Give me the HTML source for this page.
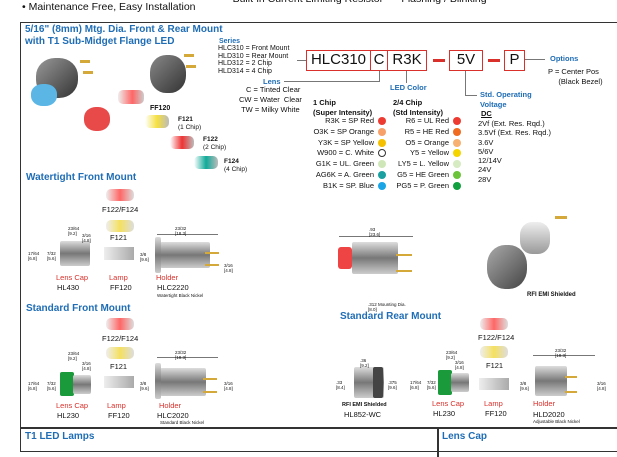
<!DOCTYPE html>
<html><head><meta charset="utf-8"><style>
*{margin:0;padding:0;box-sizing:border-box}
body{width:617px;height:449px;overflow:hidden;background:#fff;font-family:"Liberation Sans",sans-serif;color:#111;position:relative}
.a{position:absolute;white-space:nowrap}
.t{font-size:7.5px;line-height:9px}
.s{font-size:4.5px;line-height:5px}
.b{color:#1f6db5;font-weight:bold}
.h{font-size:10px;color:#1f6db5;font-weight:bold}
.r{color:#d9302b}
.box{position:absolute;border:1.5px solid #d9302b;font-size:15px;line-height:18px;text-align:center;color:#111}
.dot{position:absolute;width:8px;height:8px;border-radius:50%}
.ln{position:absolute;background:#777}
.g{position:absolute;background:linear-gradient(#ddd,#777,#ccc);border-radius:2px}
.pin{position:absolute;background:#d4a93a}
</style></head><body>
<div class="a" style="left:22px;top:1px;font-size:10.5px">• Maintenance Free, Easy Installation</div>
<div class="a" style="left:226px;top:-7px;font-size:10.5px">• Built-in Current Limiting Resistor &nbsp;&nbsp; • Flashing / Blinking</div>

<div class="a" style="left:20px;top:22px;width:600px;height:430px;border:1.5px solid #333"></div>
<div class="a" style="left:20px;top:427px;width:600px;height:1.5px;background:#333"></div>
<div class="a" style="left:437px;top:427px;width:1.5px;height:30px;background:#333"></div>

<div class="a h" style="left:25px;top:24px;line-height:11.5px">5/16" (8mm) Mtg. Dia. Front &amp; Rear Mount<br>with T1 Sub-Midget Flange LED</div>

<div class="a b" style="left:219px;top:38px;font-size:7px;line-height:8px">Series</div>
<div class="a" style="left:218px;top:45px;font-size:7px;line-height:7.7px">HLC310 = Front Mount<br>HLD310 = Rear Mount<br>HLD312 = 2 Chip<br>HLD314 = 4 Chip</div>
<div class="ln" style="left:297px;top:60px;width:10px;height:1px"></div>
<div class="box" style="left:306px;top:50px;width:65px;height:21px">HLC310</div>
<div class="box" style="left:370px;top:50px;width:18px;height:21px">C</div>
<div class="box" style="left:387px;top:50px;width:40px;height:21px">R3K</div>
<div class="a" style="left:433px;top:59px;width:12px;height:3px;background:#d9302b"></div>
<div class="box" style="left:449px;top:50px;width:34px;height:21px">5V</div>
<div class="a" style="left:488px;top:59px;width:12px;height:3px;background:#d9302b"></div>
<div class="box" style="left:504px;top:50px;width:21px;height:21px">P</div>
<div class="ln" style="left:525px;top:59px;width:20px;height:1px"></div>
<div class="a t b" style="left:550px;top:54px">Options</div>
<div class="a t" style="left:548px;top:67px;line-height:9.5px">P = Center Pos<br>&nbsp;&nbsp;&nbsp;&nbsp;&nbsp;(Black Bezel)</div>

<div class="a t b" style="left:263px;top:77px">Lens</div>
<div class="ln" style="left:284px;top:81px;width:96px;height:1px"></div>
<div class="ln" style="left:379px;top:71px;width:1px;height:11px"></div>
<div class="a t" style="left:246px;top:85px">C = Tinted Clear</div>
<div class="a t" style="left:239px;top:95px;line-height:9.5px">CW = Water &nbsp;Clear<br>&nbsp;TW = Milky White</div>
<div class="ln" style="left:406px;top:71px;width:1px;height:12px"></div>
<div class="a t b" style="left:390px;top:83px">LED Color</div>
<div class="ln" style="left:465px;top:71px;width:1px;height:24px"></div>
<div class="ln" style="left:465px;top:95px;width:12px;height:1px"></div>
<div class="a t b" style="left:480px;top:90px;line-height:9.5px">Std. Operating<br>Voltage</div>
<div class="a t" style="left:481px;top:109px;font-weight:bold;text-decoration:underline">DC</div>
<div class="a t" style="left:478px;top:119px;line-height:9.3px">2Vf (Ext. Res. Rqd.)<br>3.5Vf (Ext. Res. Rqd.)<br>3.6V<br>5/6V<br>12/14V<br>24V<br>28V</div>

<div class="a t" style="left:313px;top:98px;font-weight:bold;line-height:9.5px">1 Chip<br>(Super Intensity)</div>
<div class="a t" style="left:393px;top:98px;font-weight:bold;line-height:9.5px">2/4 Chip<br>(Std Intensity)</div>
<div class="a t" style="left:294px;top:116px;width:80px;text-align:right;line-height:10.8px">R3K = SP Red<br>O3K = SP Orange<br>Y3K = SP Yellow<br>W900 = C. White<br>G1K = UL. Green<br>AG6K = A. Green<br>B1K = SP. Blue</div>
<div class="a t" style="left:370px;top:116px;width:79px;text-align:right;line-height:10.8px">R6 = UL Red<br>R5 = HE Red<br>O5 = Orange<br>Y5 = Yellow<br>LY5 = L. Yellow<br>G5 = HE Green<br>PG5 = P. Green</div>
<div class="dot" style="left:378px;top:117px;background:#ee3b32"></div>
<div class="dot" style="left:378px;top:128px;background:#f7a06a"></div>
<div class="dot" style="left:378px;top:139px;background:#f5c000"></div>
<div class="dot" style="left:378px;top:149px;border:1px solid #333"></div>
<div class="dot" style="left:378px;top:160px;background:#cfe7b8"></div>
<div class="dot" style="left:378px;top:171px;background:#1aa0a0"></div>
<div class="dot" style="left:378px;top:182px;background:#1aa5e6"></div>
<div class="dot" style="left:453px;top:117px;background:#ee3b32"></div>
<div class="dot" style="left:453px;top:128px;background:#f06a20"></div>
<div class="dot" style="left:453px;top:139px;background:#f7b070"></div>
<div class="dot" style="left:453px;top:149px;background:#f5d500"></div>
<div class="dot" style="left:453px;top:160px;background:#d6ebc2"></div>
<div class="dot" style="left:453px;top:171px;background:#6cc43a"></div>
<div class="dot" style="left:453px;top:182px;background:#10a040"></div>

<!-- top-left product images -->
<div class="a" style="left:36px;top:58px;width:42px;height:40px;border-radius:45%;background:linear-gradient(135deg,#999,#333)"></div>
<div class="a" style="left:31px;top:84px;width:26px;height:22px;border-radius:45%;background:#5bb6e6"></div>
<div class="pin" style="left:80px;top:60px;width:10px;height:3px"></div><div class="pin" style="left:83px;top:71px;width:10px;height:3px"></div>
<div class="a" style="left:150px;top:55px;width:36px;height:38px;border-radius:45%;background:linear-gradient(135deg,#888,#333)"></div>
<div class="pin" style="left:184px;top:54px;width:10px;height:3px"></div><div class="pin" style="left:186px;top:65px;width:10px;height:3px"></div>
<div class="a" style="left:84px;top:107px;width:26px;height:24px;border-radius:45%;background:#e84a4a"></div>
<div class="a" style="left:118px;top:90px;width:26px;height:14px;border-radius:5px;background:linear-gradient(90deg,#eee,#f66 55%,#ccc)"></div>
<div class="a t" style="left:150px;top:104px;font-size:7px;font-weight:bold">FF120</div>
<div class="a" style="left:145px;top:115px;width:24px;height:13px;border-radius:5px;background:linear-gradient(90deg,#fff,#f5e040,#bbb)"></div>
<div class="a t" style="left:178px;top:116px;font-size:6.5px;line-height:8px"><b>F121</b><br>(1 Chip)</div>
<div class="a" style="left:170px;top:136px;width:24px;height:13px;border-radius:5px;background:linear-gradient(90deg,#fff,#e33,#bbb)"></div>
<div class="a t" style="left:203px;top:136px;font-size:6.5px;line-height:8px"><b>F122</b><br>(2 Chip)</div>
<div class="a" style="left:194px;top:156px;width:24px;height:13px;border-radius:5px;background:linear-gradient(90deg,#fff,#1a9,#bbb)"></div>
<div class="a t" style="left:224px;top:158px;font-size:6.5px;line-height:8px"><b>F124</b><br>(4 Chip)</div>

<!-- Watertight -->
<div class="a h" style="left:26px;top:172px">Watertight Front Mount</div>
<div class="a" style="left:106px;top:189px;width:28px;height:12px;border-radius:5px;background:linear-gradient(90deg,#eee,#f66,#ddd)"></div>
<div class="a t" style="left:102px;top:205px">F122/F124</div>
<div class="a" style="left:106px;top:220px;width:28px;height:12px;border-radius:5px;background:linear-gradient(90deg,#eee,#f5e060,#ddd)"></div>
<div class="a t" style="left:110px;top:233px">F121</div>
<div class="a" style="left:104px;top:247px;width:30px;height:13px;background:linear-gradient(90deg,#eee,#aaa)"></div>
<div class="g" style="left:60px;top:241px;width:30px;height:25px"></div>
<div class="a s" style="left:68px;top:226px">23/64<br>[9.2]</div>
<div class="a s" style="left:82px;top:233px">3/16<br>[4.8]</div>
<div class="a s" style="left:28px;top:251px">17/64<br>[6.8]</div>
<div class="a s" style="left:47px;top:251px">7/32<br>[5.6]</div>
<div class="a t r" style="left:56px;top:273px">Lens Cap</div>
<div class="a t" style="left:57px;top:283px">HL430</div>
<div class="a t r" style="left:109px;top:273px">Lamp</div>
<div class="a t" style="left:110px;top:283px">FF120</div>
<div class="g" style="left:160px;top:242px;width:50px;height:26px"></div>
<div class="g" style="left:155px;top:237px;width:6px;height:36px"></div>
<div class="pin" style="left:205px;top:252px;width:14px;height:2px"></div><div class="pin" style="left:205px;top:264px;width:14px;height:2px"></div>
<div class="ln" style="left:157px;top:234px;width:61px;height:1px"></div>
<div class="a s" style="left:175px;top:226px">23/32<br>[18.3]</div>
<div class="a s" style="left:140px;top:252px">3/8<br>[9.6]</div>
<div class="a s" style="left:224px;top:263px">3/16<br>[4.8]</div>
<div class="a t r" style="left:156px;top:273px">Holder</div>
<div class="a t" style="left:157px;top:283px">HLC2220</div>
<div class="a s" style="left:157px;top:293px">Watertight Black Nickel</div>

<div class="a" style="left:338px;top:247px;width:14px;height:22px;background:#e44;border-radius:3px"></div>
<div class="g" style="left:352px;top:242px;width:46px;height:32px"></div>
<div class="pin" style="left:396px;top:254px;width:16px;height:2px"></div><div class="pin" style="left:396px;top:270px;width:16px;height:2px"></div>
<div class="ln" style="left:339px;top:236px;width:74px;height:1px"></div>
<div class="a s" style="left:369px;top:227px">.93<br>[23.6]</div>
<div class="a s" style="left:368px;top:302px">.312 Mounting Dia.<br>[8.0]</div>
<div class="a" style="left:487px;top:245px;width:40px;height:44px;border-radius:45%;background:linear-gradient(135deg,#aaa,#444)"></div>
<div class="a" style="left:520px;top:222px;width:30px;height:32px;border-radius:40%;background:linear-gradient(#eee,#999)"></div>
<div class="pin" style="left:555px;top:216px;width:12px;height:3px"></div>
<div class="a s" style="left:527px;top:293px;font-weight:bold;font-size:6px">RFI EMI Shielded</div>

<!-- Standard Front -->
<div class="a h" style="left:26px;top:303px">Standard Front Mount</div>
<div class="a" style="left:106px;top:318px;width:28px;height:12px;border-radius:5px;background:linear-gradient(90deg,#eee,#f66,#ddd)"></div>
<div class="a t" style="left:102px;top:334px">F122/F124</div>
<div class="a" style="left:106px;top:347px;width:28px;height:12px;border-radius:5px;background:linear-gradient(90deg,#eee,#f5e060,#ddd)"></div>
<div class="a t" style="left:110px;top:362px">F121</div>
<div class="a" style="left:104px;top:376px;width:30px;height:12px;background:linear-gradient(90deg,#eee,#aaa)"></div>
<div class="a" style="left:60px;top:372px;width:14px;height:24px;background:#1a9a3a;border-radius:2px"></div>
<div class="g" style="left:73px;top:375px;width:18px;height:19px"></div>
<div class="a s" style="left:68px;top:351px">23/64<br>[9.2]</div>
<div class="a s" style="left:82px;top:361px">3/16<br>[4.8]</div>
<div class="a s" style="left:28px;top:381px">17/64<br>[6.8]</div>
<div class="a s" style="left:47px;top:381px">7/32<br>[5.6]</div>
<div class="a t r" style="left:56px;top:401px">Lens Cap</div>
<div class="a t" style="left:57px;top:411px">HL230</div>
<div class="a t r" style="left:107px;top:401px">Lamp</div>
<div class="a t" style="left:108px;top:411px">FF120</div>
<div class="g" style="left:160px;top:368px;width:46px;height:28px"></div>
<div class="g" style="left:155px;top:363px;width:6px;height:36px"></div>
<div class="pin" style="left:203px;top:378px;width:14px;height:2px"></div><div class="pin" style="left:203px;top:391px;width:14px;height:2px"></div>
<div class="ln" style="left:157px;top:357px;width:61px;height:1px"></div>
<div class="a s" style="left:175px;top:350px">23/32<br>[18.3]</div>
<div class="a s" style="left:140px;top:381px">3/8<br>[9.6]</div>
<div class="a s" style="left:224px;top:381px">3/16<br>[4.8]</div>
<div class="a t r" style="left:159px;top:401px">Holder</div>
<div class="a t" style="left:157px;top:411px">HLC2020</div>
<div class="a s" style="left:160px;top:420px">Standard Black Nickel</div>

<!-- Standard Rear -->
<div class="a h" style="left:340px;top:311px">Standard Rear Mount</div>
<div class="a" style="left:480px;top:318px;width:28px;height:12px;border-radius:5px;background:linear-gradient(90deg,#eee,#f66,#ddd)"></div>
<div class="a t" style="left:478px;top:333px">F122/F124</div>
<div class="a" style="left:480px;top:346px;width:28px;height:12px;border-radius:5px;background:linear-gradient(90deg,#eee,#f5e060,#ddd)"></div>
<div class="a t" style="left:486px;top:361px">F121</div>
<div class="a" style="left:479px;top:378px;width:30px;height:12px;background:linear-gradient(90deg,#eee,#aaa)"></div>
<div class="g" style="left:354px;top:367px;width:30px;height:31px"></div>
<div class="g" style="left:373px;top:367px;width:10px;height:31px;background:#444"></div>
<div class="a s" style="left:360px;top:358px">.36<br>[9.2]</div>
<div class="a s" style="left:336px;top:380px">.33<br>[8.4]</div>
<div class="a s" style="left:388px;top:380px">.375<br>[9.6]</div>
<div class="a s" style="left:342px;top:403px;font-weight:bold;font-size:5.5px">RFI EMI Shielded</div>
<div class="a t" style="left:344px;top:410px">HL852-WC</div>
<div class="a" style="left:438px;top:370px;width:14px;height:25px;background:#1a9a3a;border-radius:2px"></div>
<div class="g" style="left:451px;top:373px;width:18px;height:19px"></div>
<div class="a s" style="left:446px;top:350px">23/64<br>[9.2]</div>
<div class="a s" style="left:455px;top:360px">3/16<br>[4.8]</div>
<div class="a s" style="left:410px;top:380px">17/64<br>[6.8]</div>
<div class="a s" style="left:427px;top:380px">7/32<br>[5.6]</div>
<div class="a t r" style="left:432px;top:399px">Lens Cap</div>
<div class="a t" style="left:433px;top:409px">HL230</div>
<div class="a t r" style="left:484px;top:399px">Lamp</div>
<div class="a t" style="left:485px;top:409px">FF120</div>
<div class="g" style="left:535px;top:366px;width:32px;height:30px"></div>
<div class="pin" style="left:565px;top:376px;width:12px;height:2px"></div><div class="pin" style="left:565px;top:391px;width:12px;height:2px"></div>
<div class="ln" style="left:533px;top:355px;width:62px;height:1px"></div>
<div class="a s" style="left:555px;top:348px">23/32<br>[18.3]</div>
<div class="a s" style="left:520px;top:381px">3/8<br>[9.6]</div>
<div class="a s" style="left:597px;top:381px">3/16<br>[4.8]</div>
<div class="a t r" style="left:533px;top:399px">Holder</div>
<div class="a t" style="left:533px;top:410px">HLD2020</div>
<div class="a s" style="left:533px;top:419px">Adjustable Black Nickel</div>

<div class="a h" style="left:25px;top:431px">T1 LED Lamps</div>
<div class="a h" style="left:442px;top:431px">Lens Cap</div>
</body></html>
